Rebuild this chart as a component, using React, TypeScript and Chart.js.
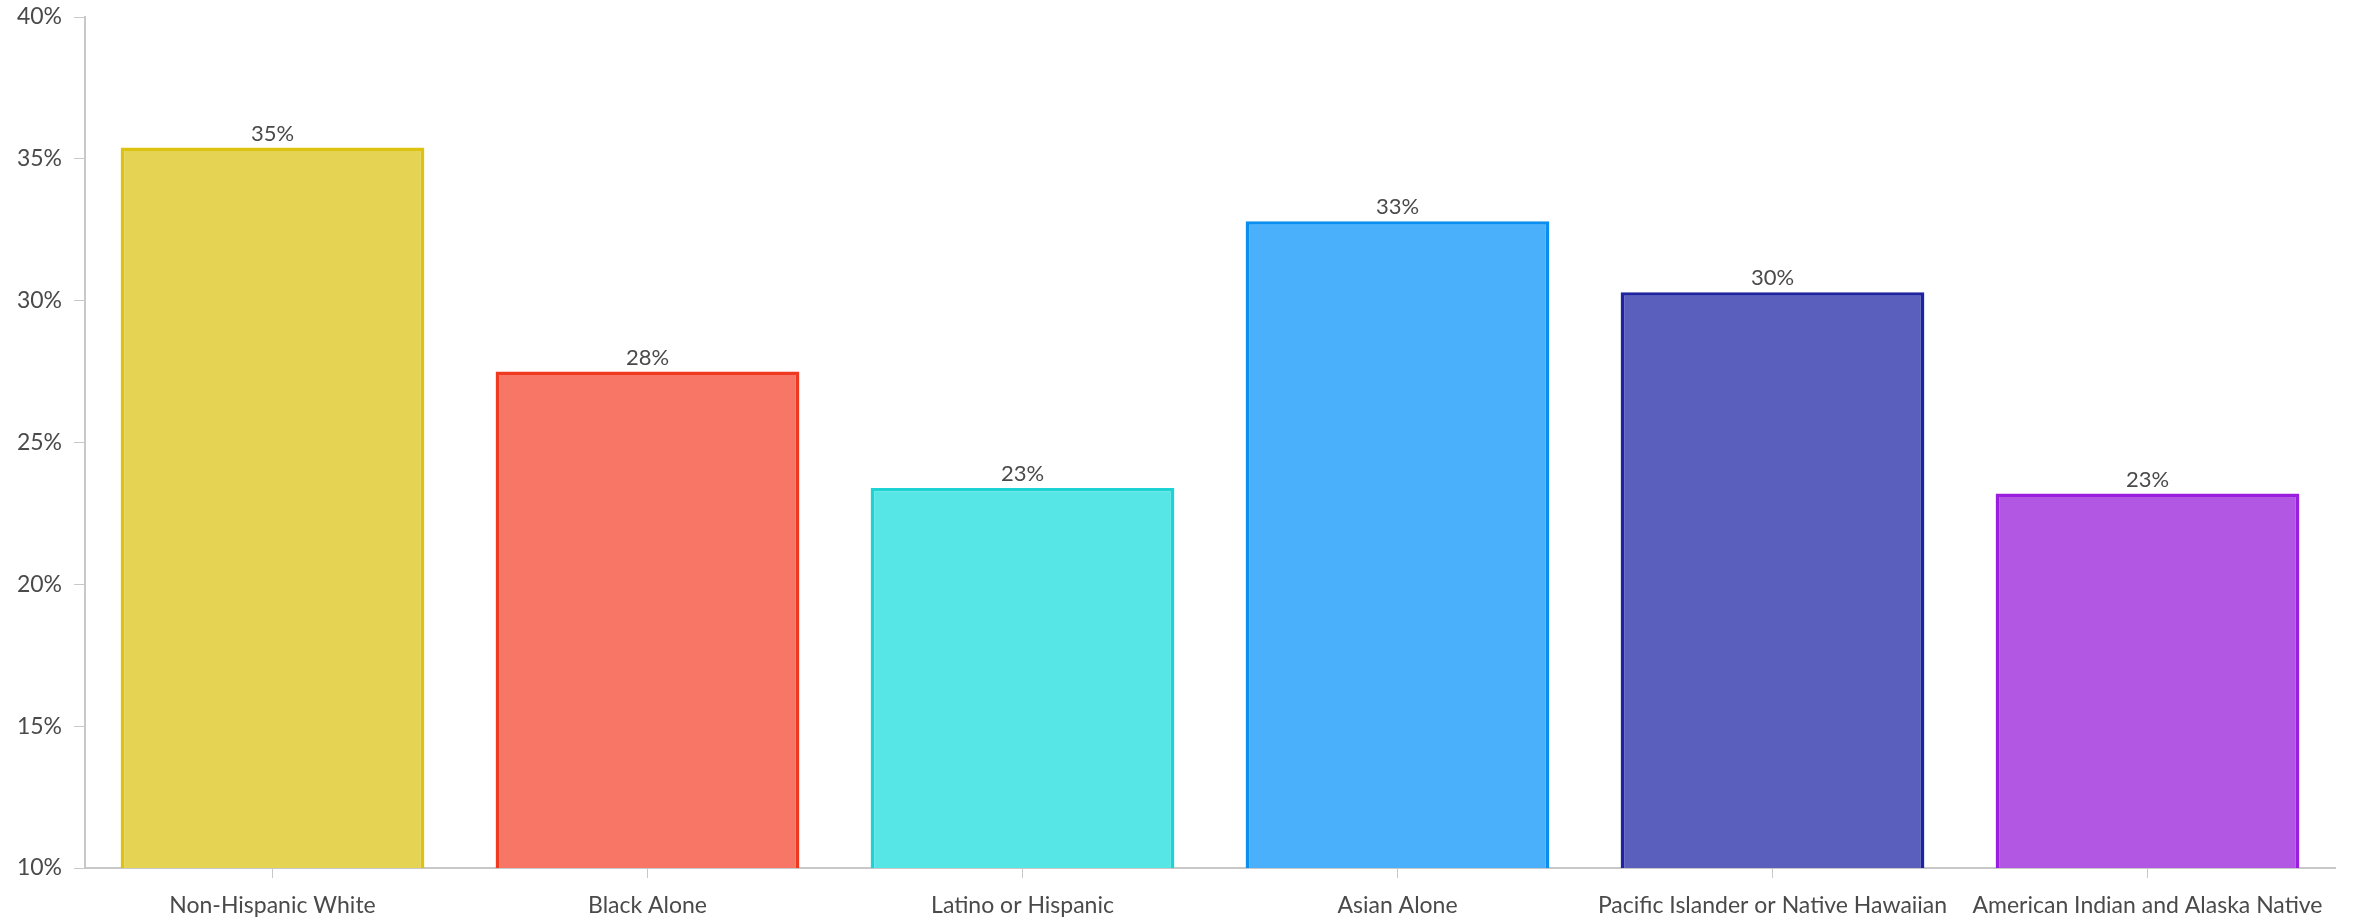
import React, { useEffect, useRef } from "react";
import { Chart, registerables } from "chart.js";

Chart.register(...registerables);

const categories = [
  "Non-Hispanic White",
  "Black Alone",
  "Latino or Hispanic",
  "Asian Alone",
  "Pacific Islander or Native Hawaiian",
  "American Indian and Alaska Native",
];
const values = [35.4, 27.5, 23.4, 32.8, 30.3, 23.2];
const fillColors = ["#E5D454", "#F87666", "#57E6E6", "#4BB0FB", "#5A5FBE", "#B157E4"];
const borderColors = ["#DDC30F", "#F03A1F", "#1DD3D3", "#0A8EF0", "#1E23A0", "#9B1EDF"];
const yMin = 10;
const yMax = 40;
const yStep = 5;

const FONT = "Lato, 'Open Sans', sans-serif";
const TEXT = "#4a4a4a";

const valueLabels = {
  id: "valueLabels",
  afterDatasetsDraw(chart: any) {
    const ctx = chart.ctx;
    const meta = chart.getDatasetMeta(0);
    ctx.save();
    ctx.font = `22px ${FONT}`;
    ctx.fillStyle = TEXT;
    ctx.textAlign = "center";
    ctx.textBaseline = "bottom";
    meta.data.forEach((bar: any, i: number) => {
      ctx.fillText(Math.round(values[i]) + "%", bar.x, bar.y - 3);
    });
    ctx.restore();
  },
};

export default function App() {
  const ref = useRef<HTMLCanvasElement | null>(null);
  useEffect(() => {
    document.body.style.margin = "0";
    const chart = new Chart(ref.current as HTMLCanvasElement, {
      type: "bar",
      data: {
        labels: categories,
        datasets: [
          {
            data: values,
            backgroundColor: fillColors,
            borderColor: borderColors,
            borderWidth: 3.5,
            borderSkipped: false,
            barPercentage: 0.9,
            categoryPercentage: 0.9,
          },
        ],
      },
      options: {
        animation: false,
        responsive: false,
        maintainAspectRatio: false,
        layout: { padding: { top: 17, right: 19, left: 0, bottom: 0 } },
        plugins: { legend: { display: false }, tooltip: { enabled: false } },
        scales: {
          x: {
            grid: {
              offset: false,
              drawOnChartArea: false,
              drawTicks: true,
              tickLength: 10,
              color: "#c8c8c8",
            },
            border: { display: true, color: "#c8c8c8", width: 2 },
            ticks: {
              autoSkip: false,
              maxRotation: 0,
              minRotation: 0,
              padding: 14,
              color: TEXT,
              font: { family: FONT, size: 23 },
            },
            afterFit: (s: any) => {
              s.height = 51;
            },
          },
          y: {
            min: yMin,
            max: yMax,
            ticks: {
              stepSize: yStep,
              padding: 12,
              color: TEXT,
              font: { family: FONT, size: 23 },
              callback: (v: any) => v + "%",
            },
            grid: {
              drawOnChartArea: false,
              drawTicks: true,
              tickLength: 11,
              color: "#c8c8c8",
            },
            border: { display: true, color: "#c8c8c8", width: 2 },
            afterFit: (s: any) => {
              s.width = 85;
              s.paddingTop = 0;
            },
          },
        },
      },
      plugins: [valueLabels],
    });
    return () => chart.destroy();
  }, []);
  return (
    <div style={{ position: "absolute", left: 0, top: 0, width: 2354, height: 919 }}>
      <canvas ref={ref} width={2354} height={919} style={{ width: 2354, height: 919 }} />
    </div>
  );
}
